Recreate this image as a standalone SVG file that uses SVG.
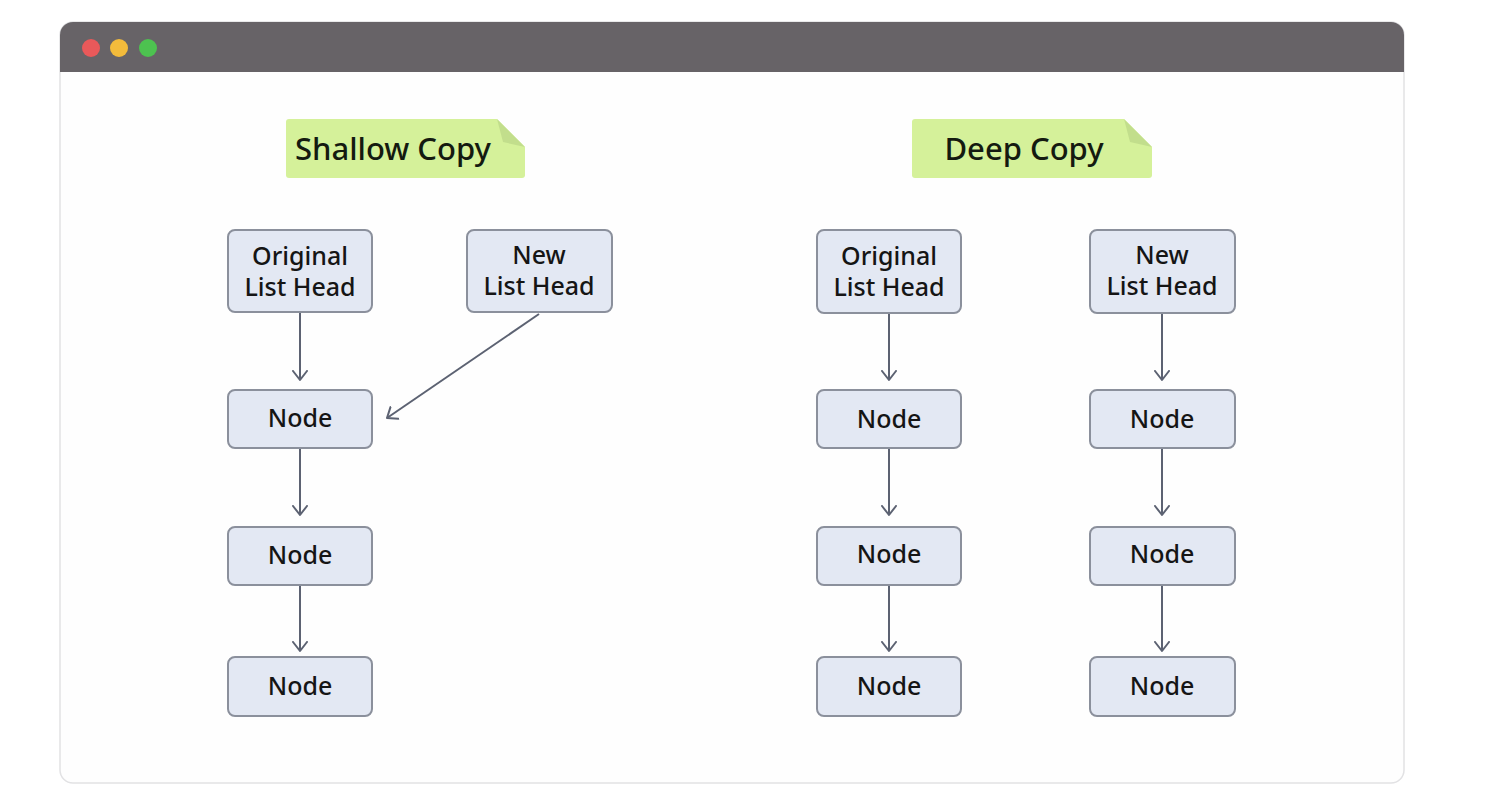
<svg xmlns="http://www.w3.org/2000/svg" width="1488" height="800" viewBox="0 0 1488 800">
<style>
.node rect{fill:#e3e8f3;stroke:#8b909c;stroke-width:2}
.node text{font-family:"Noto Sans","Open Sans",sans-serif;font-size:25px;font-weight:500;fill:#151515;text-anchor:middle}
.tag text{font-family:"Noto Sans","Open Sans",sans-serif;font-size:31px;font-weight:500;fill:#141a10;text-anchor:middle}
.tagbody{fill:#d5f19a}
.tagfold{fill:#c2de8c}
.conn line{stroke:#5c6272;stroke-width:2}
</style>
<defs>
<marker id="arr" markerUnits="userSpaceOnUse" markerWidth="20" markerHeight="20" viewBox="-10 -10 20 20" refX="0" refY="0" orient="auto">
<path d="M-9,-7 L0,0 L-9,7" fill="none" stroke="#5c6272" stroke-width="2" stroke-linecap="round" stroke-linejoin="round"/>
</marker>
</defs>
<rect width="1488" height="800" fill="#ffffff"/>
<g id="window">
<rect x="60" y="22" width="1344" height="761" rx="13" fill="#fefefe" stroke="#e2e2e4" stroke-width="1.5"/>
<path d="M60,72 V35 A13,13 0 0 1 73,22 H1391 A13,13 0 0 1 1404,35 V72 Z" fill="#676367"/>
<circle cx="91" cy="48" r="9" fill="#e9595a"/>
<circle cx="119" cy="48" r="9" fill="#f3bb3b"/>
<circle cx="148" cy="48" r="9" fill="#4dc250"/>
</g>
<g id="tag-shallow" class="tag">
<path class="tagbody" d="M289,119 H497 L525,147 V175 A3,3 0 0 1 522,178 H289 A3,3 0 0 1 286,175 V122 A3,3 0 0 1 289,119 Z"/>
<path class="tagfold" d="M497,119 L525,147 L503,142 Z"/>
<text x="393" y="160">Shallow Copy</text>
</g>
<g id="tag-deep" class="tag">
<path class="tagbody" d="M915,119 H1124 L1152,147 V175 A3,3 0 0 1 1149,178 H915 A3,3 0 0 1 912,175 V122 A3,3 0 0 1 915,119 Z"/>
<path class="tagfold" d="M1124,119 L1152,147 L1130,142 Z"/>
<text x="1024" y="160">Deep Copy</text>
</g>
<g id="s-orig-head" class="node"><rect x="228" y="230" width="144" height="82" rx="7"/><text x="300" y="265">Original</text><text x="300" y="296">List Head</text></g>
<g id="s-new-head" class="node"><rect x="467" y="230" width="145" height="82" rx="7"/><text x="539" y="264">New</text><text x="539" y="295">List Head</text></g>
<g id="s-node1" class="node"><rect x="228" y="390" width="144" height="58" rx="7"/><text x="300" y="427">Node</text></g>
<g id="s-node2" class="node"><rect x="228" y="527" width="144" height="58" rx="7"/><text x="300" y="564">Node</text></g>
<g id="s-node3" class="node"><rect x="228" y="657" width="144" height="59" rx="7"/><text x="300" y="695">Node</text></g>
<g id="d-orig-head" class="node"><rect x="817" y="230" width="144" height="83" rx="7"/><text x="889" y="265">Original</text><text x="889" y="296">List Head</text></g>
<g id="d-orig-node1" class="node"><rect x="817" y="390" width="144" height="58" rx="7"/><text x="889" y="428">Node</text></g>
<g id="d-orig-node2" class="node"><rect x="817" y="527" width="144" height="58" rx="7"/><text x="889" y="563">Node</text></g>
<g id="d-orig-node3" class="node"><rect x="817" y="657" width="144" height="59" rx="7"/><text x="889" y="695">Node</text></g>
<g id="d-new-head" class="node"><rect x="1090" y="230" width="145" height="83" rx="7"/><text x="1162" y="264">New</text><text x="1162" y="295">List Head</text></g>
<g id="d-new-node1" class="node"><rect x="1090" y="390" width="145" height="58" rx="7"/><text x="1162" y="428">Node</text></g>
<g id="d-new-node2" class="node"><rect x="1090" y="527" width="145" height="58" rx="7"/><text x="1162" y="563">Node</text></g>
<g id="d-new-node3" class="node"><rect x="1090" y="657" width="145" height="59" rx="7"/><text x="1162" y="695">Node</text></g>
<g id="connectors" class="conn">
<line x1="300" y1="313" x2="300" y2="380" marker-end="url(#arr)"/>
<line x1="300" y1="449" x2="300" y2="515" marker-end="url(#arr)"/>
<line x1="300" y1="586" x2="300" y2="651" marker-end="url(#arr)"/>
<line x1="539" y1="314" x2="387" y2="418" marker-end="url(#arr)"/>
<line x1="889" y1="314" x2="889" y2="380" marker-end="url(#arr)"/>
<line x1="889" y1="449" x2="889" y2="515" marker-end="url(#arr)"/>
<line x1="889" y1="586" x2="889" y2="651" marker-end="url(#arr)"/>
<line x1="1162" y1="314" x2="1162" y2="380" marker-end="url(#arr)"/>
<line x1="1162" y1="449" x2="1162" y2="515" marker-end="url(#arr)"/>
<line x1="1162" y1="586" x2="1162" y2="651" marker-end="url(#arr)"/>
</g>
</svg>
